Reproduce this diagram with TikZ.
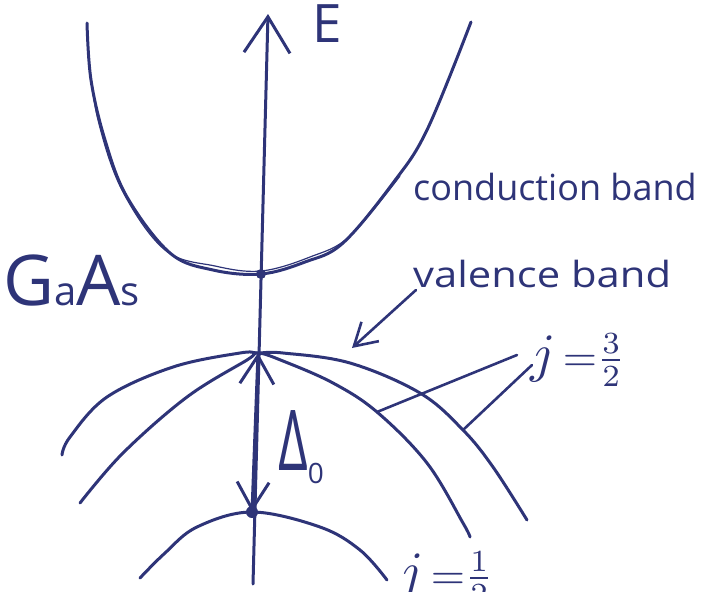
\documentclass[tikz,border=0pt]{standalone}
\usepackage{amsmath}
\usepackage{fontspec}
\usepackage{graphicx}
\setmainfont{Open Sans}
\usetikzlibrary{arrows.meta}
\definecolor{Ink}{HTML}{2E3478}

\begin{document}
\begin{tikzpicture}[x=1pt,y=-1pt,line cap=round,line join=round,
  band/.style={Ink,line width=3pt},
  pointer/.style={Ink,line width=2.6pt},
  lbl/.style={Ink,inner sep=0pt}]
\path[use as bounding box] (0,0) rectangle (705,592);
% key points
\coordinate (axisbot) at (253,584);
\coordinate (axistop) at (268,14);
\coordinate (cbmin) at (261,274);
\coordinate (vbtop) at (258,353);
\coordinate (sotop) at (252,512);
\coordinate (lhpt) at (377,412);
\coordinate (hhpt) at (463,430);
\coordinate (vbhit) at (352,348);
% conduction band
\draw[band] plot[smooth,tension=0.6] coordinates {(87,23) (91,80) (105,140) (127,197) (170,253) (213,270) (cbmin) (305,262) (343,243) (393,183) (427,130) (471,22)};
\draw[Ink,line width=1.2pt] plot[smooth,tension=0.6] coordinates {(89,60) (98,120) (122,190) (165,250) (215,266) (261,271) (310,257) (350,236) (400,176)};
% valence bands
\draw[band] plot[smooth,tension=0.6] coordinates {(62,455) (70,437) (107,397) (173,367) (240,353) (vbtop) (283,353) (350,363) (420,393) (hhpt) (493,467) (527,520)};
\draw[band] plot[smooth,tension=0.6] coordinates {(80,503) (123,453) (187,397) (247,360) (vbtop) (283,361) (333,383) (lhpt) (427,463) (463,523) (470,537)};
% split-off band
\draw[band] plot[smooth,tension=0.6] coordinates {(140,578) (165,553) (197,527) (sotop) (320,527) (360,550) (387,580)};
% energy axis
\draw[band,-{Straight Barb[length=36pt,width=46pt]}] (axisbot) -- (axistop);
\fill[Ink] (cbmin) circle (5);
\fill[Ink] (sotop) circle (6);
% spin-orbit splitting
\draw[band,{Straight Barb[length=27pt,width=32pt]}-{Straight Barb[length=28pt,width=34pt]}] (sotop) -- (vbtop);
\node[lbl,anchor=base west] (delta) at (278,470) {{\fontsize{84}{84}\selectfont\scalebox{0.62}[1]{Δ}}\raisebox{-13pt}{\fontsize{28}{28}\selectfont 0}};
% labels
\node[lbl,anchor=base west] (elabel) at (312,42) {\fontsize{53}{53}\selectfont E};
\node[lbl,anchor=base west] (gaas) at (3,305) {\fontsize{70}{70}\selectfont G\fontsize{40}{40}\selectfont a\fontsize{70}{70}\selectfont A\fontsize{40}{40}\selectfont s};
\node[lbl,anchor=base west] (cblabel) at (413,200) {\fontsize{36}{36}\selectfont conduction band};
\node[lbl,anchor=base west] (vblabel) at (413,287) {\fontsize{36}{36}\selectfont\scalebox{1.16}[1]{valence band}};
\node[lbl,anchor=west] (j32) at (530,360) {\scalebox{5.4}{$j$}\scalebox{4.4}{$\,{=}\tfrac{3}{2}$}};
\node[lbl,anchor=west] (j12) at (398,578) {\scalebox{5.4}{$j$}\scalebox{4.4}{$\,{=}\tfrac{1}{2}$}};
% pointers
\coordinate (vbstart) at (416,290);
\draw[pointer,-{Straight Barb[length=22pt,width=26pt]}] (vbstart) -- (vbhit);
\coordinate (jtipA) at (517,355);
\coordinate (jtipB) at (532,365);
\draw[pointer] (jtipA) -- (lhpt);
\draw[pointer] (jtipB) -- (hhpt);
\end{tikzpicture}
\end{document}
